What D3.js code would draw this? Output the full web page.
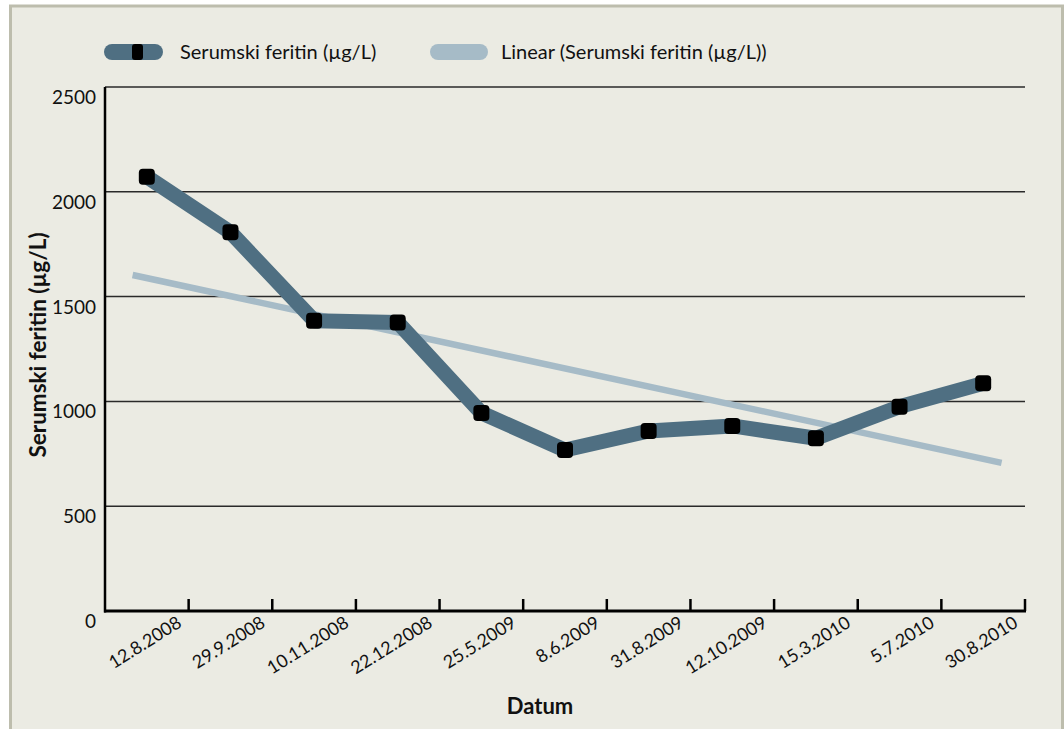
<!DOCTYPE html>
<html>
<head>
<meta charset="utf-8">
<script src="https://cdnjs.cloudflare.com/ajax/libs/d3/7.8.5/d3.min.js"></script>
<style>
  body { margin: 0; background: #ffffff; }
  svg { display: block; font-family: Lato, "Open Sans", sans-serif; }
</style>
</head>
<body>
<div id="chart"></div>
<script>
  // dates of the measurements (x categories)
  var dates = ["12.8.2008", "29.9.2008", "10.11.2008", "22.12.2008", "25.5.2009",
               "8.6.2009", "31.8.2009", "12.10.2009", "15.3.2010", "5.7.2010", "30.8.2010"];
  // serum ferritin in µg/L
  var ferritin = [2072, 1807, 1385, 1377, 945, 768, 859, 883, 824, 975, 1086];
  // linear trend line, start and end (category index, value)
  var trendIndex = [-0.17, 10.22];
  var trendValue = [1603, 707];
  var yTicks = [0, 500, 1000, 1500, 2000, 2500];

  var W = 1064, H = 729;
  var plotLeft = 105, plotRight = 1025, plotTop = 87, plotBottom = 611;

  var svg = d3.select("#chart").append("svg")
      .attr("width", W)
      .attr("height", H);

  // panel with border
  svg.append("rect")
      .attr("x", 10.5).attr("y", 6)
      .attr("width", 1052).attr("height", 760)
      .style("fill", "#ebebe3")
      .style("stroke", "#bdbdad")
      .style("stroke-width", 3);

  var x = d3.scaleBand().domain(dates).range([plotLeft, plotRight]).padding(0);
  var bw = x.bandwidth();
  var xi = d3.scaleLinear().domain([0, dates.length]).range([plotLeft, plotRight]);
  var y = d3.scaleLinear().domain([0, 2500]).range([plotBottom, plotTop]);

  // gridlines
  svg.selectAll(".grid")
      .data(yTicks.filter(function (d) { return d > 0; }))
      .enter().append("line")
      .attr("x1", plotLeft).attr("x2", plotRight)
      .attr("y1", function (d) { return y(d); })
      .attr("y2", function (d) { return y(d); })
      .style("stroke", "#2a2a2a")
      .style("stroke-width", 1.5);

  // y tick labels
  svg.selectAll(".ylab")
      .data(yTicks)
      .enter().append("text")
      .attr("x", 96)
      .attr("y", function (d) { return y(d) + 17; })
      .attr("text-anchor", "end")
      .style("font-size", "19px")
      .style("fill", "#111")
      .text(function (d) { return d; });

  // axes lines
  svg.append("line")
      .attr("x1", plotLeft).attr("x2", plotLeft)
      .attr("y1", plotTop).attr("y2", plotBottom + 1.5)
      .style("stroke", "#000").style("stroke-width", 2.5);
  svg.append("line")
      .attr("x1", plotLeft - 1).attr("x2", plotRight + 1)
      .attr("y1", plotBottom).attr("y2", plotBottom)
      .style("stroke", "#000").style("stroke-width", 3);

  // ticks on x axis at category boundaries
  var tickPos = dates.map(function (d, i) { return i + 1; });
  svg.selectAll(".xtick")
      .data(tickPos)
      .enter().append("line")
      .attr("x1", function (d) { return xi(d); })
      .attr("x2", function (d) { return xi(d); })
      .attr("y1", plotBottom).attr("y2", plotBottom - 12)
      .style("stroke", "#000").style("stroke-width", 2.5);

  // x tick labels, rotated
  svg.selectAll(".xlab")
      .data(dates)
      .enter().append("text")
      .attr("text-anchor", "end")
      .attr("transform", function (d) {
        return "translate(" + (x(d) + bw / 2 + 36) + "," + 626 + ") rotate(-32)";
      })
      .style("font-size", "18px")
      .style("fill", "#111")
      .text(function (d) { return d; });

  // trend line
  svg.append("line")
      .attr("x1", xi(trendIndex[0] + 0.5)).attr("y1", y(trendValue[0]))
      .attr("x2", xi(trendIndex[1] + 0.5)).attr("y2", y(trendValue[1]))
      .style("stroke", "#a6bbc7")
      .style("stroke-width", 6.5);

  // main series
  var line = d3.line()
      .x(function (d, i) { return x(dates[i]) + bw / 2; })
      .y(function (d) { return y(d); });

  svg.append("path")
      .datum(ferritin)
      .attr("d", line)
      .style("fill", "none")
      .style("stroke", "#4f6f82")
      .style("stroke-width", 15)
      .style("stroke-linejoin", "round");

  svg.selectAll(".marker")
      .data(ferritin)
      .enter().append("rect")
      .attr("x", function (d, i) { return x(dates[i]) + bw / 2 - 8; })
      .attr("y", function (d) { return y(d) - 8; })
      .attr("width", 16).attr("height", 16)
      .attr("rx", 4).attr("ry", 4)
      .style("fill", "#000");

  // legend
  svg.append("rect")
      .attr("x", 104).attr("y", 44).attr("width", 59).attr("height", 16)
      .attr("rx", 8)
      .style("fill", "#4f6f82");
  svg.append("rect")
      .attr("x", 132).attr("y", 44).attr("width", 11).attr("height", 16)
      .attr("rx", 3)
      .style("fill", "#000");
  svg.append("text")
      .attr("x", 180).attr("y", 59)
      .style("font-size", "20px")
      .style("fill", "#111")
      .text("Serumski feritin (µg/L)");

  svg.append("rect")
      .attr("x", 430).attr("y", 44).attr("width", 58).attr("height", 16)
      .attr("rx", 8)
      .style("fill", "#a6bbc7");
  svg.append("text")
      .attr("x", 501).attr("y", 59)
      .style("font-size", "20px")
      .style("fill", "#111")
      .text("Linear (Serumski feritin (µg/L))");

  // axis titles
  svg.append("text")
      .attr("transform", "translate(46,345) rotate(-90)")
      .attr("text-anchor", "middle")
      .style("font-size", "22.5px")
      .style("font-weight", "bold")
      .style("fill", "#111")
      .text("Serumski feritin (µg/L)");

  svg.append("text")
      .attr("x", 540).attr("y", 714)
      .attr("text-anchor", "middle")
      .style("font-size", "22px")
      .style("font-weight", "bold")
      .style("fill", "#111")
      .text("Datum");
</script>
</body>
</html>
